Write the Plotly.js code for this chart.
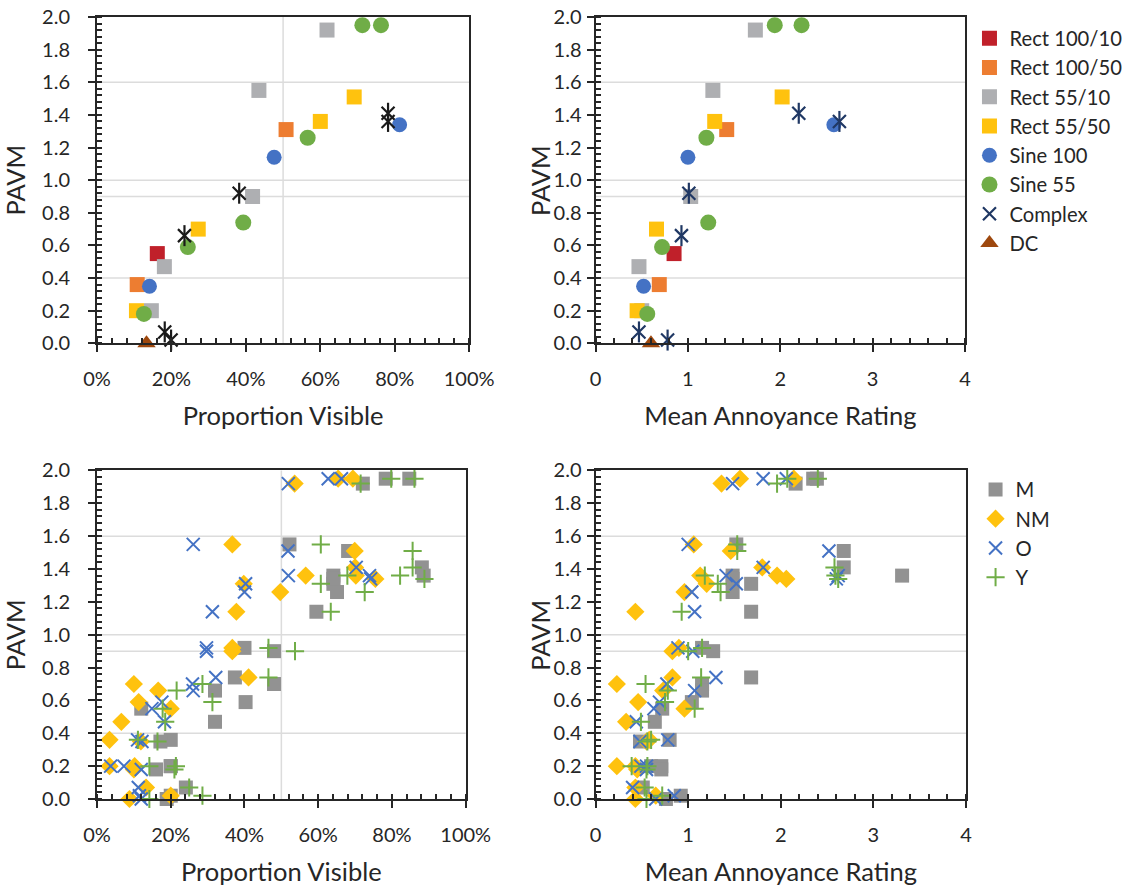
<!DOCTYPE html>
<html>
<head>
<meta charset="utf-8">
<script src="https://cdn.plot.ly/plotly-3.0.1.min.js"></script>
<style>
  html, body { margin: 0; padding: 0; background: #fff; }
  #chart { width: 1139px; height: 886px; }
</style>
</head>
<body>
<div id="chart"></div>
<script>
// ---- Stimulus series (top row): PAVM, proportion visible, mean annoyance rating ----
const pavmRect100_10 = [0.55];
const visRect100_10  = [0.162];
const marRect100_10  = [0.85];

const pavmRect100_50 = [1.31, 0.36];
const visRect100_50  = [0.508, 0.108];
const marRect100_50  = [1.42, 0.69];

const pavmRect55_10 = [1.92, 1.55, 0.90, 0.47, 0.20];
const visRect55_10  = [0.618, 0.435, 0.418, 0.181, 0.146];
const marRect55_10  = [1.73, 1.27, 1.03, 0.47, 0.50];

const pavmRect55_50 = [1.51, 1.36, 0.70, 0.20];
const visRect55_50  = [0.691, 0.600, 0.272, 0.106];
const marRect55_50  = [2.02, 1.29, 0.66, 0.45];

const pavmSine100 = [1.34, 1.14, 0.35];
const visSine100  = [0.813, 0.476, 0.141];
const marSine100  = [2.58, 1.00, 0.52];

const pavmSine55 = [1.95, 1.95, 1.26, 0.74, 0.59, 0.18];
const visSine55  = [0.713, 0.763, 0.566, 0.393, 0.244, 0.126];
const marSine55  = [1.94, 2.23, 1.20, 1.22, 0.72, 0.56];

const pavmComplex = [1.41, 1.36, 0.92, 0.66, 0.07, 0.02];
const visComplex  = [0.782, 0.782, 0.382, 0.235, 0.182, 0.199];
const marComplex  = [2.20, 2.64, 1.01, 0.93, 0.47, 0.78];

const pavmDC = [0.0];
const visDC  = [0.133];
const marDC  = [0.60];

// ---- Observer groups (bottom row): one value per stimulus, in PAVM order ----
const pavmStimuli = [1.95, 1.95, 1.92, 1.55, 1.51, 1.41, 1.36, 1.36, 1.34, 1.31, 1.26, 1.14,
                     0.92, 0.90, 0.74, 0.70, 0.66, 0.59, 0.55, 0.47, 0.36, 0.35, 0.20, 0.20,
                     0.18, 0.07, 0.02, 0.00];

const visM  = [0.783, 0.847, 0.721, 0.522, 0.681, 0.881, 0.641, 0.886, 0.641, 0.641, 0.651, 0.595,
               0.400, 0.480, 0.374, 0.480, 0.320, 0.403, 0.120, 0.320, 0.200, 0.172, 0.200, 0.200,
               0.160, 0.241, 0.200, 0.189];
const marM  = [2.35, 2.39, 2.16, 1.52, 2.68, 2.68, 1.48, 3.31, 1.48, 1.68, 1.48, 1.68,
               1.15, 1.27, 1.68, 1.15, 1.15, 1.04, 0.72, 0.64, 0.80, 0.48, 0.60, 0.71,
               0.71, 0.51, 0.92, 0.76];

const visNM = [0.654, 0.694, 0.536, 0.367, 0.699, 0.700, 0.566, 0.702, 0.755, 0.398, 0.497, 0.378,
               0.367, 0.367, 0.411, 0.100, 0.166, 0.113, 0.200, 0.066, 0.034, 0.119, 0.034, 0.102,
               0.100, 0.133, 0.200, 0.088];
const marNM = [1.56, 2.14, 1.36, 1.06, 1.46, 1.80, 1.13, 1.96, 2.06, 1.20, 0.96, 0.43,
               0.90, 0.83, 0.83, 0.23, 0.73, 0.46, 0.96, 0.33, 0.58, 0.55, 0.23, 0.43,
               0.45, 0.43, 0.65, 0.43];

const visO  = [0.627, 0.663, 0.519, 0.261, 0.518, 0.703, 0.519, 0.739, 0.742, 0.403, 0.400, 0.313,
               0.297, 0.297, 0.322, 0.259, 0.261, 0.176, 0.149, 0.183, 0.110, 0.122, 0.037, 0.073,
               0.120, 0.112, 0.115, 0.120];
const marO  = [1.81, 2.06, 1.48, 1.00, 2.52, 1.81, 1.41, 2.62, 2.60, 1.52, 1.04, 1.07,
               0.89, 1.05, 1.30, 0.77, 1.07, 0.69, 0.63, 0.44, 0.78, 0.48, 0.49, 0.55,
               0.55, 0.40, 0.85, 0.65];

const visY  = [0.798, 0.861, 0.715, 0.607, 0.856, 0.856, 0.679, 0.822, 0.888, 0.607, 0.726, 0.634,
               0.465, 0.537, 0.465, 0.286, 0.216, 0.313, 0.178, 0.185, 0.111, 0.164, 0.142, 0.214,
               0.210, 0.250, 0.286, 0.142];
const marY  = [2.07, 2.40, 1.96, 1.53, 1.53, 2.58, 1.18, 2.59, 2.62, 1.32, 1.35, 0.93,
               1.15, 1.00, 1.14, 0.54, 0.78, 0.75, 1.07, 0.49, 0.60, 0.56, 0.39, 0.56,
               0.55, 0.53, 0.72, 0.55];

// Reference lines drawn across every panel
const pavmRefLines = [0.4, 0.9, 1.0, 1.6];
const visRefLines  = [0.5];

// ---- Styling ----
const FONT = 'Lato, "Open Sans", sans-serif';
const TXT = '#262626';

function marker(symbol, size, color, lineSymbol, lw) {
  return lineSymbol
    ? { symbol: symbol, size: size, color: color, line: { color: color, width: lw || 2.2 } }
    : { symbol: symbol, size: size, color: color, line: { width: 0 } };
}

function stimTrace(name, vis, mar, pavm, symbol, color, size, lineSymbol, altColor) {
  return [
    { type: 'scatter', mode: 'markers', name: name, x: vis, y: pavm, xaxis: 'x', yaxis: 'y',
      marker: marker(symbol, size, altColor || color, lineSymbol), showlegend: false,
      cliponaxis: false, legend: 'legend', legendgroup: name },
    { type: 'scatter', mode: 'markers', name: name, x: mar, y: pavm, xaxis: 'x2', yaxis: 'y2',
      marker: marker(symbol, size, color, lineSymbol), showlegend: true,
      cliponaxis: false, legend: 'legend', legendgroup: name }
  ];
}

// Star marker = a diagonal cross with a vertical stroke through it
function starTrace(name, vis, mar, pavm, color, altColor, size) {
  return [
    { type: 'scatter', mode: 'markers', name: name, x: vis, y: pavm, xaxis: 'x', yaxis: 'y',
      marker: marker('line-ns-open', size + 2, altColor, true), showlegend: false,
      cliponaxis: false, legend: 'legend', legendgroup: name },
    { type: 'scatter', mode: 'markers', name: name, x: mar, y: pavm, xaxis: 'x2', yaxis: 'y2',
      marker: marker('line-ns-open', size + 2, color, true), showlegend: false,
      cliponaxis: false, legend: 'legend', legendgroup: name }
  ].concat(stimTrace(name, vis, mar, pavm, 'x-thin-open', color, size, true, altColor));
}

function groupTrace(name, vis, mar, symbol, color, size, lineSymbol) {
  const mk = marker(symbol, size, color, lineSymbol, 2);
  return [
    { type: 'scatter', mode: 'markers', name: name, x: vis, y: pavmStimuli, xaxis: 'x3', yaxis: 'y3',
      marker: mk, showlegend: false, cliponaxis: false, legend: 'legend2' },
    { type: 'scatter', mode: 'markers', name: name, x: mar, y: pavmStimuli, xaxis: 'x4', yaxis: 'y4',
      marker: mk, showlegend: true, cliponaxis: false, legend: 'legend2' }
  ];
}

const traces = [].concat(
  stimTrace('Rect 100/10', visRect100_10, marRect100_10, pavmRect100_10, 'square', '#C0202A', 15),
  stimTrace('Rect 100/50', visRect100_50, marRect100_50, pavmRect100_50, 'square', '#ED7D31', 15),
  stimTrace('Rect 55/10',  visRect55_10,  marRect55_10,  pavmRect55_10,  'square', '#AEAFB2', 15),
  stimTrace('Rect 55/50',  visRect55_50,  marRect55_50,  pavmRect55_50,  'square', '#FFC20E', 15),
  stimTrace('Sine 100',    visSine100,    marSine100,    pavmSine100,    'circle', '#4472C4', 15),
  stimTrace('Sine 55',     visSine55,     marSine55,     pavmSine55,     'circle', '#70AD47', 16),
  starTrace('Complex',     visComplex,    marComplex,    pavmComplex,    '#203864', '#1a1a1a', 13),
  stimTrace('DC',          visDC,         marDC,         pavmDC,         'triangle-up', '#9E480E', 16),
  groupTrace('M',  visM,  marM,  'square', '#929292', 14),
  groupTrace('NM', visNM, marNM, 'diamond', '#FFC20E', 14),
  groupTrace('O',  visO,  marO,  'x-thin-open', '#4472C4', 13, true),
  groupTrace('Y',  visY,  marY,  'cross-thin-open', '#70AD47', 13, true)
);

function axisBase(extra) {
  return Object.assign({
    showgrid: false, zeroline: false,
    showline: true, linecolor: TXT, linewidth: 2, mirror: true,
    ticks: 'outside', ticklen: 7, tickwidth: 2, tickcolor: TXT,
    tickfont: { family: FONT, size: 20, color: TXT },
    automargin: false, fixedrange: true
  }, extra);
}

const titleFont = { family: FONT, size: 25.5, color: TXT };

function pctAxis(domain, anchor) {
  return axisBase({
    domain: domain, anchor: anchor, range: [0, 1], dtick: 0.2, tick0: 0, tickformat: '.0%',
    ticklabelstandoff: 10,
    minor: { ticks: 'inside', dtick: 0.04, ticklen: 5, tickwidth: 2, tickcolor: TXT },
    title: { text: 'Proportion Visible', font: titleFont, standoff: 18 }
  });
}
function marAxis(domain, anchor) {
  return axisBase({
    domain: domain, anchor: anchor, range: [0, 4], dtick: 1, tick0: 0, tickformat: 'd',
    ticklabelstandoff: 10,
    minor: { ticks: 'inside', dtick: 0.2, ticklen: 5, tickwidth: 2, tickcolor: TXT },
    title: { text: 'Mean Annoyance Rating', font: titleFont, standoff: 18 }
  });
}
function pavmAxis(domain, anchor, labelGap, titleText) {
  return axisBase({
    domain: domain, anchor: anchor, range: [0, 2], dtick: 0.2, tick0: 0, tickformat: '.1f',
    ticklabelstandoff: labelGap,
    minor: { ticks: 'inside', dtick: 0.04, ticklen: 5, tickwidth: 2, tickcolor: TXT },
    title: { text: titleText, font: titleFont, standoff: 9 }
  });
}

const W = 1139, H = 886;
const M = { l: 97, r: 167, t: 17, b: 87 };
const leftTop = [0, 0.4283], rightTop = [0.5737, 0.9989];
const leftBot = [0, 0.4243], rightBot = [0.5737, 1.0];
const topY = [0.5827, 1.0], botY = [0, 0.4201];

const shapes = [];
const panels = [['x', 'y', true], ['x2', 'y2', false], ['x3', 'y3', true], ['x4', 'y4', false]];
panels.forEach(([xa, ya, hasVis]) => {
  pavmRefLines.forEach(v => shapes.push({
    type: 'line', layer: 'below', xref: xa + ' domain', yref: ya,
    x0: 0, x1: 1, y0: v, y1: v, line: { color: '#DCDCDC', width: 1.5 }
  }));
  if (hasVis) visRefLines.forEach(v => shapes.push({
    type: 'line', layer: 'below', xref: xa, yref: ya + ' domain',
    x0: v, x1: v, y0: 0, y1: 1, line: { color: '#DCDCDC', width: 1.5 }
  }));
});

// PAVM titles of the right-hand panels sit close to their tick labels
const annotations = ['y2 domain', 'y4 domain'].map(yr => ({
  text: 'PAVM', textangle: -90, showarrow: false,
  xref: 'paper', x: 0.5097, xanchor: 'center',
  yref: yr, y: 0.5, yanchor: 'middle',
  font: titleFont
}));

const layout = {
  width: W, height: H,
  margin: M,
  paper_bgcolor: '#ffffff', plot_bgcolor: 'rgba(0,0,0,0)',
  font: { family: FONT, color: TXT },
  xaxis: pctAxis(leftTop, 'y'),
  yaxis: pavmAxis(topY, 'x', 14, 'PAVM'),
  xaxis2: marAxis(rightTop, 'y2'),
  yaxis2: pavmAxis(topY, 'x2', 1, ''),
  xaxis3: pctAxis(leftBot, 'y3'),
  yaxis3: pavmAxis(botY, 'x3', 14, 'PAVM'),
  xaxis4: marAxis(rightBot, 'y4'),
  yaxis4: pavmAxis(botY, 'x4', 1, ''),
  shapes: shapes,
  annotations: annotations,
  legend: {
    x: 1.004, xanchor: 'left', y: 0.998, yanchor: 'top',
    font: { family: FONT, size: 20.2, color: TXT },
    bgcolor: 'rgba(0,0,0,0)', tracegroupgap: 0, itemclick: false
  },
  legend2: {
    x: 1.011, xanchor: 'left', y: 0.421, yanchor: 'top',
    font: { family: FONT, size: 20.2, color: TXT },
    bgcolor: 'rgba(0,0,0,0)', tracegroupgap: 0, itemclick: false
  },
  showlegend: true
};

Plotly.newPlot('chart', traces, layout, { staticPlot: true, displayModeBar: false });
</script>
</body>
</html>
